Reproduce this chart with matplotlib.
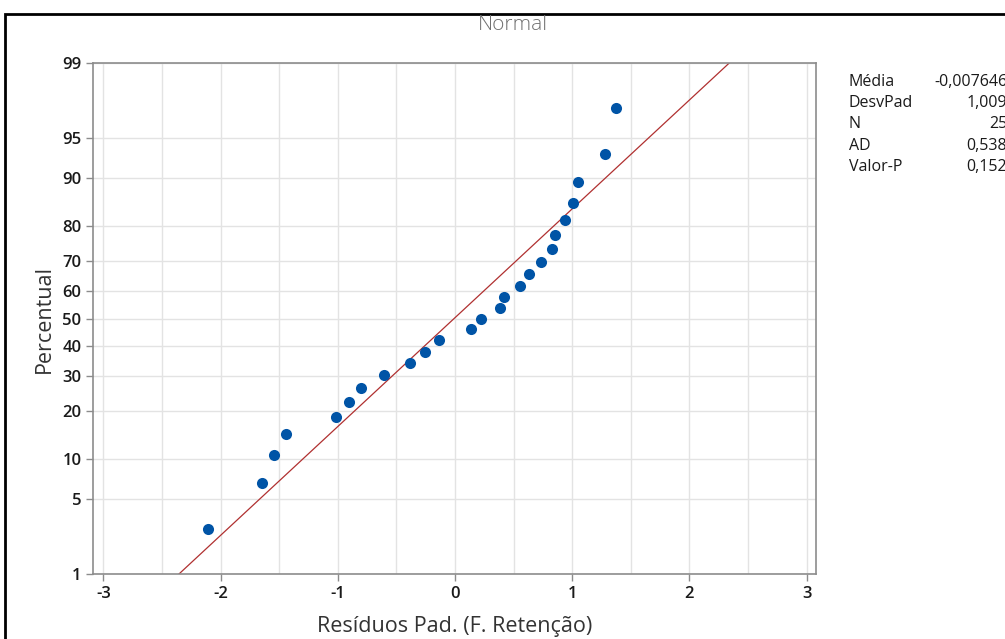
import numpy as np
import matplotlib.pyplot as plt
from matplotlib.patches import Rectangle
from statistics import NormalDist

# residuos padronizados (ordenados) e percentual (postos medianos)
residuos = [-2.105, -1.650, -1.547, -1.445, -1.018, -0.904, -0.802, -0.603, -0.387,
            -0.254, -0.139, 0.139, 0.222, 0.387, 0.420, 0.554, 0.629, 0.732,
            0.825, 0.854, 0.936, 1.009, 1.050, 1.277, 1.374]
percentual = [2.76, 6.69, 10.63, 14.57, 18.50, 22.44, 26.38, 30.31, 34.25, 38.19,
              42.13, 46.06, 50.00, 53.94, 57.87, 61.81, 65.75, 69.69, 73.62,
              77.56, 81.50, 85.43, 89.37, 93.31, 97.24]

media = -0.007646
desvpad = 1.009
stat_nomes = ["Média", "DesvPad", "N", "AD", "Valor-P"]
stat_vals = ["-0,007646", "1,009", "25", "0,538", "0,152"]

y_ticks = [1, 5, 10, 20, 30, 40, 50, 60, 70, 80, 90, 95, 99]
x_ticks = [-3, -2, -1, 0, 1, 2, 3]

nd = NormalDist()
def z(p):
    return nd.inv_cdf(p / 100.0)

plt.rcParams['font.family'] = ['Open Sans', 'DejaVu Sans']

fig = plt.figure(figsize=(10.05, 6.39), dpi=100)
ax = fig.add_axes([0.0928, 0.1017, 0.7192, 0.7997])

# moldura preta
fig.patches.append(Rectangle((5 / 1005, -0.05), 1.1, 1 - 14 / 639 + 0.05,
                             transform=fig.transFigure, fill=False,
                             edgecolor='black', linewidth=2))

# grade
for xv in np.arange(-3, 3.01, 0.5):
    ax.axvline(xv, color='#e3e3e3', lw=1, zorder=0)
for yv in y_ticks:
    ax.axhline(z(yv), color='#e3e3e3', lw=1, zorder=0)

# linha ajustada
zz = np.array([z(0.5), z(99.5)])
ax.plot(media + desvpad * zz, zz, color='#b03030', lw=0.9, zorder=2)

ax.scatter(residuos, [z(p) for p in percentual], s=64, color='#0054a6',
           zorder=3, linewidths=0)

ax.set_xlim(-3.086, 3.08)
ax.set_ylim(z(1), z(99))
ax.set_xticks(x_ticks)
ax.set_xticklabels([str(t) for t in x_ticks])
ax.set_yticks([z(t) for t in y_ticks])
ax.set_yticklabels([str(t) for t in y_ticks])

for s in ax.spines.values():
    s.set_color('#8c8c8c')
    s.set_linewidth(1.2)
ax.tick_params(colors='#8c8c8c', length=5, width=1, labelsize=12,
               labelcolor='#1a1a1a')
for lb in ax.get_xticklabels() + ax.get_yticklabels():
    lb.set_fontweight('semibold')

ax.set_xlabel("Resíduos Pad. (F. Retenção)", fontsize=15.5, color='#333333',
              labelpad=10)
ax.set_ylabel("Percentual", fontsize=15.5, color='#333333', labelpad=5)

fig.text(513 / 1005, 1 - 25 / 639, "Normal", ha='center', va='center',
         fontsize=15, color='#707070', fontweight='light')

for i, (n, v) in enumerate(zip(stat_nomes, stat_vals)):
    yy = 1 - (82 + i * 21.2) / 639
    fig.text(849 / 1005, yy, n, ha='left', va='center', fontsize=11.5,
             color='#1a1a1a', fontweight='medium')
    fig.text(1007 / 1005, yy, v, ha='right', va='center', fontsize=11.5,
             color='#1a1a1a', fontweight='medium')

fig.savefig("out.png", dpi=100)
